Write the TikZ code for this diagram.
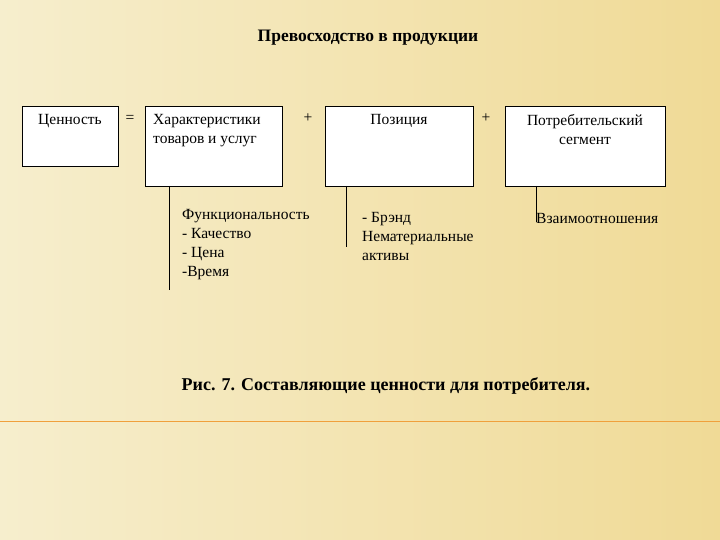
\documentclass[tikz,border=0pt]{standalone}
\usepackage{fontspec}
\setmainfont{Liberation Serif}
\definecolor{bgl}{RGB}{246,238,205}
\definecolor{bgr}{RGB}{240,218,150}
\definecolor{orl}{RGB}{240,160,60}
\begin{document}
\begin{tikzpicture}[x=1pt,y=-1pt,
 box/.style={draw,fill=white,line width=0.8pt,anchor=north west,inner sep=0pt},
 txt/.style={font=\fontsize{15.5}{19}\selectfont,inner sep=0pt},
 ln/.style={line width=0.8pt}]
\shade[left color=bgl,right color=bgr] (0,0) rectangle (720,540);
\useasboundingbox (0,0) rectangle (720,540);
\draw[orl,line width=1pt] (0,421) -- (720,421);
\node[font=\fontsize{17.5}{19}\selectfont\bfseries] (title) at (368,38) {Превосходство в продукции};
\node[box,minimum width=96pt,minimum height=60pt] (v) at (22,106) {};
\node[txt] at (70,121) {Ценность};
\node[txt] (eq) at (130,119) {=};
\node[box,minimum width=137pt,minimum height=80pt] (c) at (145,106) {};
\node[txt,anchor=north west,align=left] at (153,114) {Характеристики\\товаров и услуг};
\node[txt] (p1) at (308,118) {+};
\node[box,minimum width=148pt,minimum height=80pt] (p) at (325,106) {};
\node[txt] at (399,121) {Позиция};
\node[txt] (p2) at (486,118) {+};
\node[box,minimum width=160pt,minimum height=80pt] (s) at (505,106) {};
\node[txt,anchor=north,align=center] at (585,114) {Потребительский\\сегмент};
\coordinate (a1) at (169,290);
\coordinate (a2) at (346,247);
\coordinate (a3) at (536,222);
\draw[ln] (169,186) -- (a1);
\draw[ln] (346,186) -- (a2);
\draw[ln] (536,186) -- (a3);
\node[txt,anchor=north west,align=left] (t1) at (182,209) {Функциональность\\- Качество\\- Цена\\-Время};
\node[txt,anchor=north west,align=left] (t2) at (362,212) {- Брэнд\\Нематериальные\\активы};
\node[txt,anchor=north west,align=left] (t3) at (536,213) {Взаимоотношения};
\node[font=\fontsize{18}{20}\selectfont\bfseries] (cap) at (386,386) {Рис. 7. Составляющие ценности для потребителя.};
\end{tikzpicture}
\end{document}
